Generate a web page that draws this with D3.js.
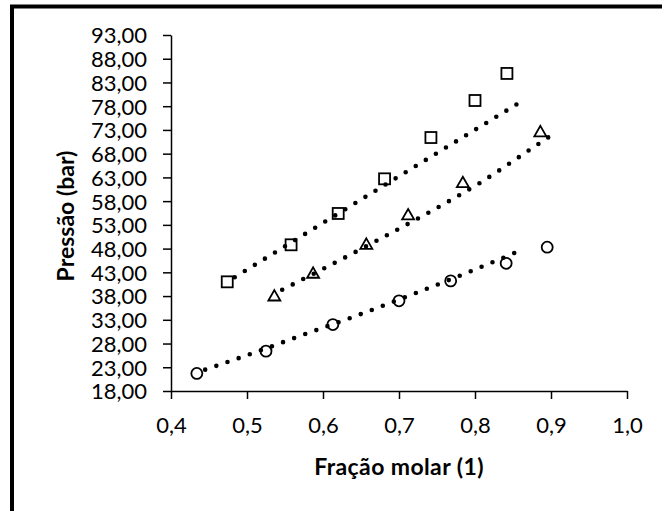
<!DOCTYPE html>
<html>
<head>
<meta charset="utf-8">
<script src="https://cdn.jsdelivr.net/npm/d3@7/dist/d3.min.js"></script>
<style>
  html, body { margin: 0; padding: 0; background: #fff; }
  svg { display: block; }
  text { font-family: Lato, "Open Sans", sans-serif; fill: #000; }
</style>
</head>
<body>
<svg id="chart" width="662" height="511"></svg>
<script>
// Measured points (molar fraction, pressure in bar)
const squareX = [0.474, 0.558, 0.620, 0.681, 0.742, 0.800, 0.842];
const squareY = [41.0, 48.8, 55.4, 62.7, 71.4, 79.2, 84.9];
const triangleX = [0.536, 0.587, 0.657, 0.712, 0.784, 0.886];
const triangleY = [38.0, 42.8, 48.9, 55.1, 61.9, 72.6];
const circleX = [0.434, 0.525, 0.613, 0.700, 0.768, 0.841, 0.895];
const circleY = [21.7, 26.4, 32.0, 37.0, 41.2, 44.9, 48.3];

// Model curves (dotted)
const squareFitX = [0.474, 0.665, 0.856];
const squareFitY = [41.0, 59.8, 78.5];
const triangleFitX = [0.536, 0.601, 0.671, 0.739, 0.806, 0.870, 0.909];
const triangleFitY = [38.5, 43.8, 49.7, 55.6, 61.8, 68.6, 72.8];
const circleFitX = [0.434, 0.502, 0.575, 0.648, 0.720, 0.794, 0.864];
const circleFitY = [21.9, 25.65, 29.9, 34.1, 38.5, 43.2, 47.9];

// Axis ticks
const yTicks = [18, 23, 28, 33, 38, 43, 48, 53, 58, 63, 68, 73, 78, 83, 88, 93];
const xTicks = [0.4, 0.5, 0.6, 0.7, 0.8, 0.9, 1.0];

const svg = d3.select("#chart");

// Outer frame (top and left edges visible)
svg.append("rect")
  .attr("x", 12).attr("y", 6.5)
  .attr("width", 700).attr("height", 600)
  .attr("fill", "none").attr("stroke", "#000").attr("stroke-width", 4);

const x = d3.scaleLinear().domain([0.4, 1.0]).range([171, 627]);
const y = d3.scaleLinear().domain([18, 93]).range([391, 35]);

const comma = (f) => (v) => d3.format(f)(v).replace(".", ",");

// Y axis
const yAxis = svg.append("g")
  .attr("transform", `translate(${x(0.4)},0)`)
  .call(d3.axisLeft(y).tickValues(yTicks).tickSize(8).tickSizeOuter(0)
    .tickPadding(16).tickFormat(comma(".2f")));
yAxis.select(".domain").attr("stroke", "#000").attr("stroke-width", 1.5);
yAxis.selectAll(".tick line").attr("stroke", "#000").attr("stroke-width", 1.5);
yAxis.selectAll(".tick text")
  .attr("font-family", "Lato, sans-serif").attr("font-size", 22)
  .attr("fill", "#000").attr("dy", "0.36em");

// X axis
const xAxis = svg.append("g")
  .attr("transform", `translate(0,${y(18)})`)
  .call(d3.axisBottom(x).tickValues(xTicks).tickSize(8).tickSizeOuter(0)
    .tickPadding(12).tickFormat(comma(".1f")));
xAxis.select(".domain").attr("stroke", "#000").attr("stroke-width", 1.5);
xAxis.selectAll(".tick line").attr("stroke", "#000").attr("stroke-width", 1.5);
xAxis.selectAll(".tick text")
  .attr("font-family", "Lato, sans-serif").attr("font-size", 22)
  .attr("fill", "#000").attr("y", 42).attr("dy", 0);

// Axis titles
svg.append("text")
  .attr("x", (x(0.4) + x(1.0)) / 2).attr("y", 475)
  .attr("text-anchor", "middle")
  .attr("font-size", 23).attr("font-weight", "bold")
  .attr("letter-spacing", 0.4)
  .text("Fração molar (1)");

svg.append("text")
  .attr("transform", `translate(74,${(y(18) + y(93)) / 2 + 3}) rotate(-90)`)
  .attr("text-anchor", "middle")
  .attr("font-size", 23).attr("font-weight", "bold")
  .text("Pressão (bar)");

const zip = (xs, ys) => xs.map((v, i) => [v, ys[i]]);

// Markers
const markers = svg.append("g");
markers.selectAll("rect.sq")
  .data(zip(squareX, squareY)).join("rect")
  .attr("class", "sq")
  .attr("x", d => x(d[0]) - 5.5).attr("y", d => y(d[1]) - 5.5)
  .attr("width", 11).attr("height", 11)
  .attr("fill", "#fff").attr("stroke", "#000").attr("stroke-width", 1.8);

const tri = d3.symbol().type(d3.symbolTriangle).size(62);
markers.selectAll("path.tri")
  .data(zip(triangleX, triangleY)).join("path")
  .attr("class", "tri")
  .attr("d", tri)
  .attr("transform", d => `translate(${x(d[0])},${y(d[1]) + 1})`)
  .attr("fill", "#fff").attr("stroke", "#000").attr("stroke-width", 1.8);

markers.selectAll("circle.ci")
  .data(zip(circleX, circleY)).join("circle")
  .attr("class", "ci")
  .attr("cx", d => x(d[0])).attr("cy", d => y(d[1]))
  .attr("r", 5.5)
  .attr("fill", "#fff").attr("stroke", "#000").attr("stroke-width", 1.8);

// Dotted model curves
const line = d3.line().x(d => x(d[0])).y(d => y(d[1])).curve(d3.curveMonotoneX);
[[squareFitX, squareFitY], [triangleFitX, triangleFitY], [circleFitX, circleFitY]]
  .forEach(([xs, ys]) => {
    svg.append("path")
      .datum(zip(xs, ys))
      .attr("d", line)
      .attr("fill", "none").attr("stroke", "#000")
      .attr("stroke-width", 4.6)
      .attr("stroke-linecap", "round")
      .attr("stroke-dasharray", "0 11.8")
      .attr("stroke-dashoffset", 3);
  });
</script>
</body>
</html>
